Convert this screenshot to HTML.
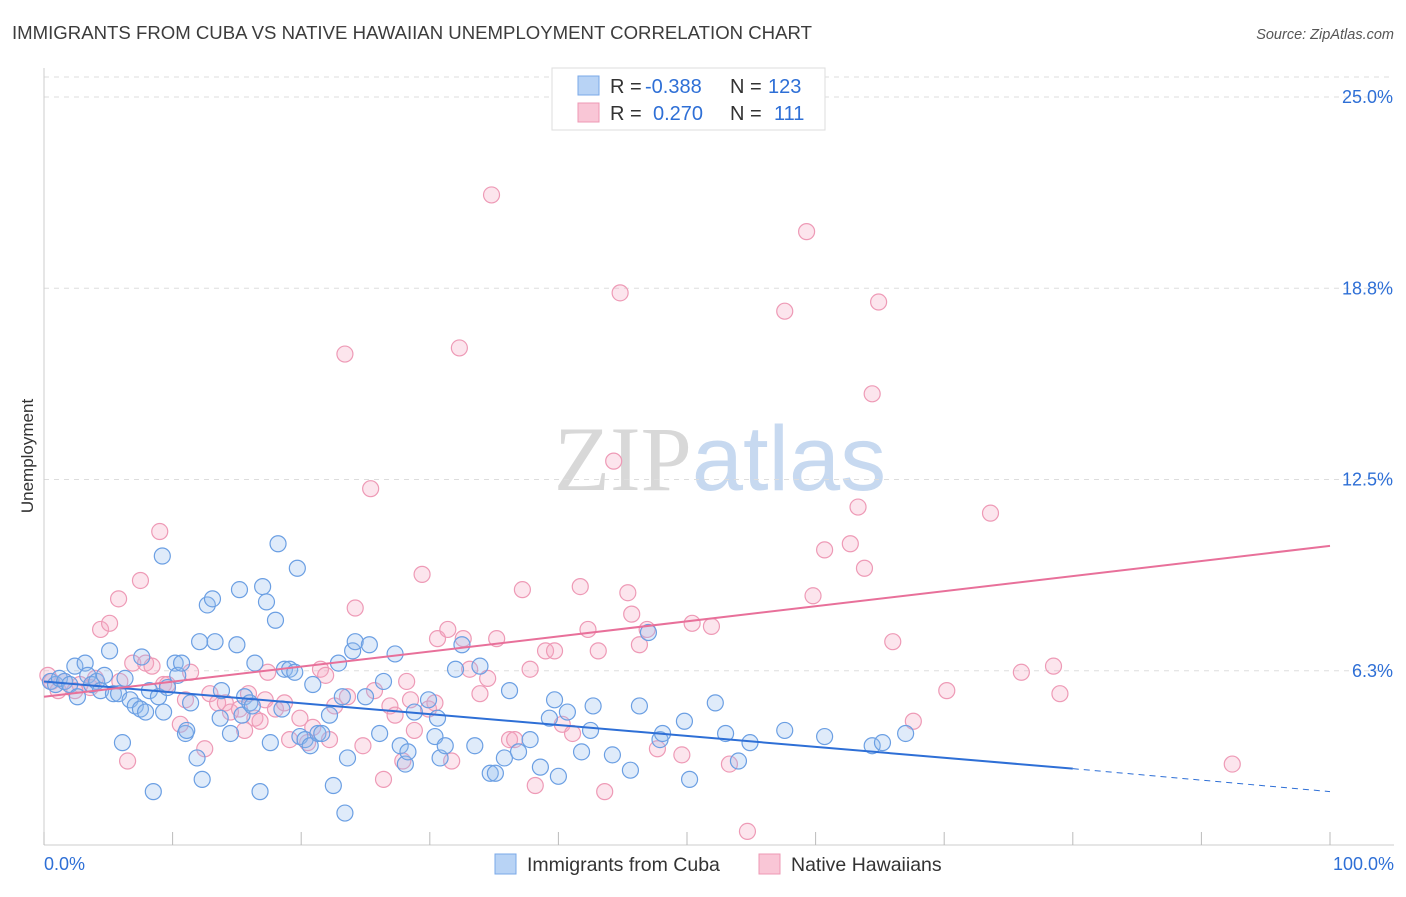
<!DOCTYPE html>
<html><head><meta charset="utf-8"><style>
body{margin:0;background:#fff;font-family:"Liberation Sans",sans-serif;}
</style></head><body>
<svg id="chart" width="1406" height="892" xmlns="http://www.w3.org/2000/svg" font-family="Liberation Sans, sans-serif">
<text x="12" y="39" font-size="18.6" fill="#3c3c3c">IMMIGRANTS FROM CUBA VS NATIVE HAWAIIAN UNEMPLOYMENT CORRELATION CHART</text>
<text x="1394" y="39" font-size="14.5" fill="#555" text-anchor="end" font-style="italic">Source: ZipAtlas.com</text>
<text x="720" y="490" font-size="92" text-anchor="middle"><tspan fill="#d8d8d8" font-family="Liberation Serif, serif">ZIP</tspan><tspan fill="#c7d9f0">atlas</tspan></text>
<g id="grid"></g><g id="axes"></g><g id="pts"></g><g id="lines"></g>
<text transform="translate(33,456) rotate(-90)" font-size="17" fill="#333" text-anchor="middle">Unemployment</text>
<g>
<rect x="552" y="68" width="273" height="62" fill="#fff" stroke="#ddd"/>
<rect x="578" y="76" width="21" height="19" fill="#b8d3f5" stroke="#7aa8e8"/>
<rect x="578" y="103" width="21" height="19" fill="#f9c6d6" stroke="#ee98b4"/>
<text x="610" y="93" font-size="20" fill="#333">R =</text>
<text x="645" y="93" font-size="20" fill="#2e6fd6">-0.388</text>
<text x="730" y="93" font-size="20" fill="#333">N =</text>
<text x="768" y="93" font-size="20" fill="#2e6fd6">123</text>
<text x="610" y="120" font-size="20" fill="#333">R =</text>
<text x="653" y="120" font-size="20" fill="#2e6fd6">0.270</text>
<text x="730" y="120" font-size="20" fill="#333">N =</text>
<text x="774" y="120" font-size="20" fill="#2e6fd6">111</text>
</g>
<g>
<rect x="495" y="854" width="21" height="20" fill="#b8d3f5" stroke="#7aa8e8"/>
<text x="527" y="871" font-size="19.5" fill="#333">Immigrants from Cuba</text>
<rect x="759" y="854" width="21" height="20" fill="#f9c6d6" stroke="#ee98b4"/>
<text x="791" y="871" font-size="19.5" fill="#333">Native Hawaiians</text>
</g>
</svg>
<script>
const yTicks=[25.0,18.8,12.5,6.3];
const yTickVals=[25,18.75,12.5,6.25];
const xTickLabels=["0.0%","100.0%"];
const cubaX=[0.5,0.9,1.2,1.6,2.0,2.4,2.6,3.2,3.4,3.7,4.1,4.4,4.7,5.1,5.4,5.8,6.1,6.3,6.7,7.1,7.5,7.6,7.9,8.2,8.5,8.9,9.2,9.3,9.6,10.2,10.4,10.7,11.0,11.1,11.4,11.9,12.1,12.3,12.7,13.1,13.3,13.7,13.8,14.5,15.0,15.2,15.4,15.6,16.0,16.2,16.4,16.8,17.0,17.3,17.6,18.0,18.2,18.5,18.7,19.1,19.5,19.7,19.9,20.3,20.7,20.9,21.3,21.6,22.2,22.5,22.9,23.2,23.4,23.6,24.0,24.2,25.0,25.3,26.1,26.4,27.3,27.7,28.1,28.3,28.8,29.9,30.4,30.6,30.8,31.2,32.0,32.5,33.5,33.9,34.7,35.1,35.8,36.2,36.9,37.8,38.6,39.3,39.7,40.0,40.7,41.8,42.5,42.7,44.2,45.6,46.3,47.0,47.9,48.1,49.8,50.2,52.2,53.0,54.0,54.9,57.6,60.7,64.4,65.2,67.0];
const cubaY=[5.9,5.8,6.0,5.9,5.8,6.4,5.4,6.5,6.1,5.8,5.9,5.6,6.1,6.9,5.5,5.5,3.9,6.0,5.3,5.1,5.0,6.7,4.9,5.6,2.3,5.4,10.0,4.9,5.7,6.5,6.1,6.5,4.2,4.3,5.2,3.4,7.2,2.7,8.4,8.6,7.2,4.7,5.6,4.2,7.1,8.9,4.8,5.4,5.2,5.1,6.5,2.3,9.0,8.5,3.9,7.9,10.4,5.0,6.3,6.3,6.2,9.6,4.1,4.0,3.8,5.8,4.2,4.2,4.8,2.5,6.5,5.4,1.6,3.4,6.9,7.2,5.4,7.1,4.2,5.9,6.8,3.8,3.2,3.6,4.9,5.3,4.1,4.7,3.4,3.8,6.3,7.1,3.8,6.4,2.9,2.9,3.4,5.6,3.6,4.0,3.1,4.7,5.3,2.8,4.9,3.6,4.3,5.1,3.5,3.0,5.1,7.5,4.0,4.2,4.6,2.7,5.2,4.2,3.3,3.9,4.3,4.1,3.8,3.9,4.2];
const hawX=[0.3,0.6,1.1,1.6,2.4,2.8,3.6,4.0,4.4,5.1,5.8,5.9,6.5,6.9,7.5,7.9,8.4,9.0,9.3,9.6,10.6,11.0,11.4,12.5,12.9,13.5,14.1,14.5,15.2,15.6,15.9,16.4,16.8,17.2,17.4,18.0,18.7,19.1,19.9,20.5,20.9,21.5,21.9,22.2,22.6,23.4,23.6,24.2,24.8,25.4,25.7,26.4,26.9,27.3,27.9,28.2,28.5,28.8,29.4,29.9,30.4,30.6,31.4,31.7,32.3,32.6,33.1,33.9,34.5,34.8,35.2,36.2,36.6,37.2,37.8,38.2,39.0,39.7,40.3,41.1,41.7,42.3,43.1,43.6,44.3,44.8,45.4,45.7,46.3,46.9,47.7,49.6,50.4,51.9,53.3,54.7,57.6,59.3,59.8,60.7,62.7,63.3,63.8,64.4,64.9,66.0,67.6,70.2,73.6,76.0,78.5,79.0,92.4];
const hawY=[6.1,5.9,5.6,5.9,5.6,5.8,5.7,6.0,7.6,7.8,8.6,5.9,3.3,6.5,9.2,6.5,6.4,10.8,5.8,5.8,4.5,5.3,6.2,3.7,5.5,5.2,5.2,4.9,5.0,4.3,5.5,4.7,4.6,5.3,6.2,5.0,5.2,4.0,4.7,3.9,4.4,6.3,6.1,4.0,5.1,16.6,5.4,8.3,3.8,12.2,5.6,2.7,5.1,4.8,3.3,5.9,5.3,4.3,9.4,5.0,5.2,7.3,7.6,3.3,16.8,7.3,6.3,5.5,6.0,21.8,7.3,4.0,4.0,8.9,6.3,2.5,6.9,6.9,4.5,4.2,9.0,7.6,6.9,2.3,13.1,18.6,8.8,8.1,7.1,7.6,3.7,3.5,7.8,7.7,3.2,1.0,18.0,20.6,8.7,10.2,10.4,11.6,9.6,15.3,18.3,7.2,4.6,5.6,11.4,6.2,6.4,5.5,3.2];
const X0=44,X1=1330,YB=862,YS=30.6;
const xs=v=>X0+(X1-X0)*v/100, ys=v=>YB-v*YS;
const NS="http://www.w3.org/2000/svg";
function mk(t,a,p){const e=document.createElementNS(NS,t);for(const k in a)e.setAttribute(k,a[k]);p.appendChild(e);return e;}
const grid=document.getElementById('grid'),axes=document.getElementById('axes'),pts=document.getElementById('pts'),lines=document.getElementById('lines');
yTickVals.forEach((v,i)=>{
 const l=mk('line',{x1:44,x2:1394,y1:ys(v),y2:ys(v),stroke:'#ddd','stroke-dasharray':'5,5'},grid);
 
 
 const t=mk('text',{x:1393,y:ys(v)+6,'font-size':18,fill:'#2e6fd6','text-anchor':'end'},axes);t.textContent=yTicks[i].toFixed(1)+'%';
 
 
});
mk('line',{x1:44,x2:1394,y1:ys(25)-20,y2:ys(25)-20,stroke:'#ddd','stroke-dasharray':'5,5'},grid);
const ax=mk('line',{x1:44,x2:44,y1:68,y2:845,stroke:'#ccc'},axes);


const bx=mk('line',{x1:44,x2:1394,y1:845,y2:845,stroke:'#ccc'},axes);


for(let i=0;i<=10;i++){const t=mk('line',{x1:xs(i*10),x2:xs(i*10),y1:832,y2:845,stroke:'#bbb'},axes);
 
 }
[[0,'start',44],[1,'end',1394]].forEach(([i,a,x])=>{const t=mk('text',{x:x,y:870,'font-size':18,fill:'#2e6fd6','text-anchor':a},axes);t.textContent=xTickLabels[i];
 
 });
hawX.forEach((v,i)=>{const c=mk('circle',{cx:xs(v),cy:ys(hawY[i]),r:8,fill:'rgba(246,170,195,0.3)',stroke:'#ee9ab6','stroke-width':1.2},pts);
 
 });
cubaX.forEach((v,i)=>{const c=mk('circle',{cx:xs(v),cy:ys(cubaY[i]),r:8,fill:'rgba(150,190,240,0.3)',stroke:'#6b9fe3','stroke-width':1.2},pts);
 
 });
const cubaFit=[5.9,3.05,2.3], hawFit=[5.4,10.33];
let l=mk('line',{x1:xs(0),y1:ys(cubaFit[0]),x2:xs(80),y2:ys(cubaFit[1]),stroke:'#2e6fd6','stroke-width':2},lines);


l=mk('line',{x1:xs(80),y1:ys(cubaFit[1]),x2:xs(100),y2:ys(cubaFit[2]),stroke:'#2e6fd6','stroke-width':1,'stroke-dasharray':'6,5'},lines);


l=mk('line',{x1:xs(0),y1:ys(hawFit[0]),x2:xs(100),y2:ys(hawFit[1]),stroke:'#e8709a','stroke-width':2},lines);


</script>
</body></html>
